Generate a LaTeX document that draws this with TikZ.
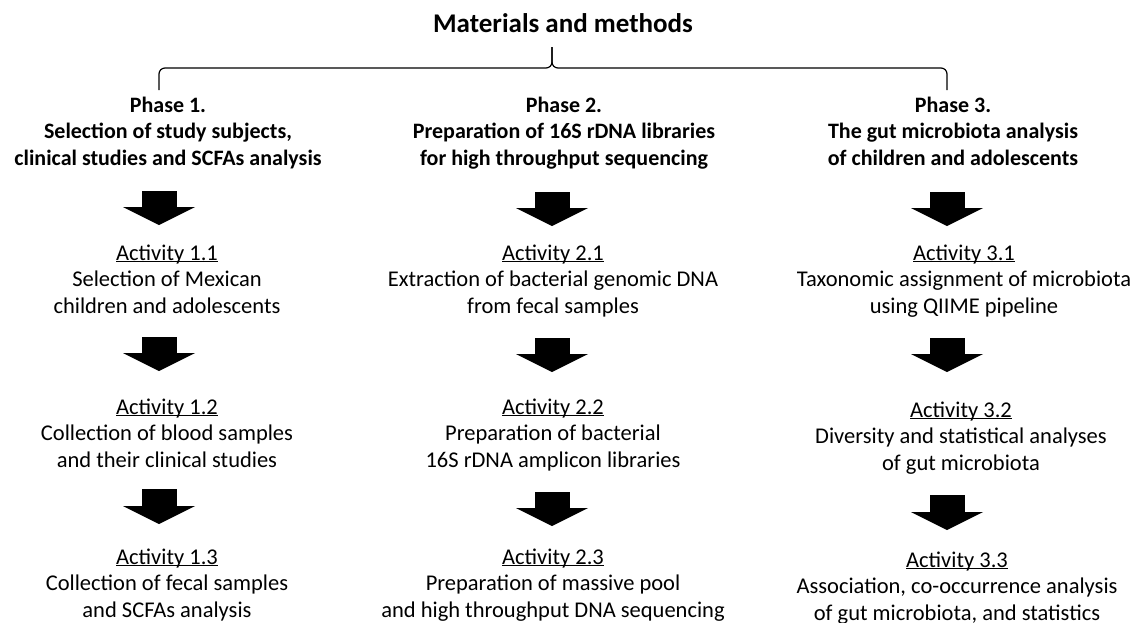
\documentclass[tikz,border=0pt]{standalone}
\usepackage{fontspec}
\setmainfont{Carlito}
\usetikzlibrary{arrows.meta,positioning,calc}
\tikzset{
  ttl/.style={font=\fontsize{27}{32}\selectfont\bfseries, inner sep=0pt},
  phase/.style={font=\fontsize{22}{26.5}\selectfont\bfseries, align=center, inner sep=0pt, anchor=north},
  act/.style={font=\fontsize{22.5}{26.5}\selectfont, align=center, inner sep=0pt, anchor=north},
  blockarr/.style 2 args={line width=35pt, -{Triangle[length=18pt,width=72pt,line width=0pt]},
                          shorten <=#1, shorten >=#2},
  brc/.style={line width=1.2pt, rounded corners=6pt},
}
\newcommand{\actname}[1]{\strut\underline{\smash{#1}}}

\begin{document}
\begin{tikzpicture}[x=1pt, y=-1pt]
    \useasboundingbox (0,0) rectangle (1135,622);
    \node[ttl] (title) at (563,23) {Materials and methods};
    % brace under the title
    \draw[brc] (159,90) -- (159,68) -- (552,68) -- (552,47);
    \draw[brc] (947,90) -- (947,68) -- (552,68) -- (552,47);
    % column axes of the arrows
    \coordinate (x1) at (159,0);
    \coordinate (x2) at (552,0);
    \coordinate (x3) at (947,0);
    % phases
    \node[phase] (h1) at (168,93.5) {\strut Phase 1.\\Selection of study subjects,\\clinical studies and SCFAs analysis\strut};
    \node[phase] (h2) at (564,93.5) {\strut Phase 2.\\Preparation of 16S rDNA libraries\\for high throughput sequencing\strut};
    \node[phase] (h3) at (953,93.5) {\strut Phase 3.\\The gut microbiota analysis\\of children and adolescents\strut};
    % activities of phase 1
    \node[act] (a11) at (167,241.5) {\actname{Activity 1.1}\\Selection of Mexican\\children and adolescents\strut};
    \node[act] (a12) at (167,395.5) {\actname{Activity 1.2}\\Collection of blood samples\\and their clinical studies\strut};
    \node[act] (a13) at (167,545.5) {\actname{Activity 1.3}\\Collection of fecal samples\\and SCFAs analysis\strut};
    % activities of phase 2
    \node[act] (a21) at (553,241.5) {\actname{Activity 2.1}\\Extraction of bacterial genomic DNA\\from fecal samples\strut};
    \node[act] (a22) at (553,395.5) {\actname{Activity 2.2}\\Preparation of bacterial\\16S rDNA amplicon libraries\strut};
    \node[act] (a23) at (553,545.5) {\actname{Activity 2.3}\\Preparation of massive pool\\and high throughput DNA sequencing\strut};
    % activities of phase 3
    \node[act] (a31) at (964,241.5) {\actname{Activity 3.1}\\Taxonomic assignment of microbiota\\using QIIME pipeline\strut};
    \node[act] (a32) at (961,398.5) {\actname{Activity 3.2}\\Diversity and statistical analyses\\of gut microbiota\strut};
    \node[act] (a33) at (957,548.5) {\actname{Activity 3.3}\\Association, co-occurrence analysis\\of gut microbiota, and statistics\strut};
    % block arrows
    \draw[blockarr={18pt}{16.5pt}] (h1.south -| x1) -- (a11.north -| x1);
    \draw[blockarr={16pt}{24.5pt}] (a11.south -| x1) -- (a12.north -| x1);
    \draw[blockarr={14pt}{21.5pt}] (a12.south -| x1) -- (a13.north -| x1);
    \draw[blockarr={19pt}{15.5pt}] (h2.south -| x2) -- (a21.north -| x2);
    \draw[blockarr={17pt}{23.5pt}] (a21.south -| x2) -- (a22.north -| x2);
    \draw[blockarr={17pt}{19.5pt}] (a22.south -| x2) -- (a23.north -| x2);
    \draw[blockarr={19pt}{15.5pt}] (h3.south -| x3) -- (a31.north -| x3);
    \draw[blockarr={17pt}{26.5pt}] (a31.south -| x3) -- (a32.north -| x3);
    \draw[blockarr={17pt}{18.5pt}] (a32.south -| x3) -- (a33.north -| x3);
\end{tikzpicture}
\end{document}
